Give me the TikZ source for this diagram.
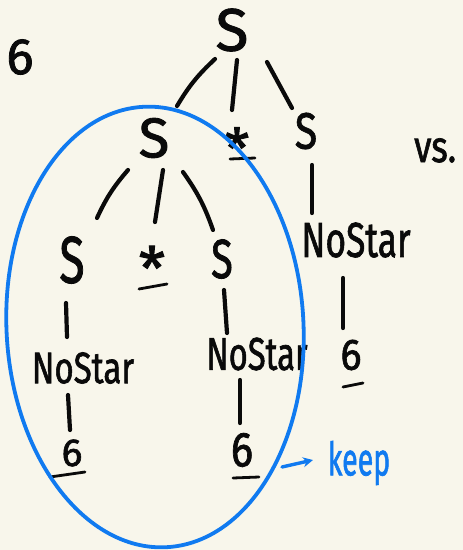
\documentclass[tikz,border=0pt]{standalone}
\usepackage{fontspec}
\usepackage{graphicx}
\setmainfont{Fira Sans}
\newfontfamily\handfont{Fira Sans}[FakeBold=1.6]
\usetikzlibrary{arrows.meta}
\definecolor{paper}{RGB}{248,246,235}
\definecolor{ink}{RGB}{10,10,10}
\definecolor{marker}{RGB}{16,122,240}
\newcommand\sx[2]{\scalebox{#1}[1]{#2}}
\tikzset{
  hand/.style={font=\handfont\fontsize{#1pt}{#1pt}\selectfont, inner sep=0pt, text=ink},
  edge/.style={draw=ink, line width=4.2pt, line cap=round},
  uline/.style={draw=ink, line width=2.8pt, line cap=round},
  ring/.style={draw=marker, line width=3.8pt},
  pointer/.style={draw=marker, line width=3.4pt, line cap=round, -{Stealth[length=10pt,width=10pt]}}
}
\begin{document}
\begin{tikzpicture}[x=1pt,y=-1pt]
  \fill[paper] (0,0) rectangle (463,550);
  \useasboundingbox (0,0) rectangle (463,550);

  % side notes
  \node[hand=51] (tok) at (20,57) {6};
  \node[hand=44, anchor=base west] (vs) at (414,162) {\sx{0.8}{vs.}};

  % parse tree
  \node[hand=60] (root) at (232,30) {S};
  \node[hand=56] (s2) at (154,138) {S};
  \node[hand=56] (star1) at (237,148) {*};
  \node[hand=51] (s2r) at (306,131) {\sx{0.8}{S}};
  \node[hand=49] (nsr) at (356,240) {\sx{0.72}{NoStar}};
  \node[hand=44] (sixr) at (351,355) {\sx{0.9}{6}};

  \node[hand=66] (s3a) at (72,260) {\sx{0.7}{S}};
  \node[hand=60] (star2) at (152,268) {*};
  \node[hand=55] (s3b) at (222,259) {\sx{0.72}{S}};
  \node[hand=44] (nsl) at (83,368) {\sx{0.75}{NoStar}};
  \node[hand=46] (nsm) at (257,354) {\sx{0.71}{NoStar}};
  \node[hand=39] (sixl) at (72,453) {6};
  \node[hand=49] (sixm) at (242,450) {\sx{0.85}{6}};

  % tree edges
  \draw[edge] ([shift={(-17,29)}]root.center) to[bend right=8] ([shift={(23,-32)}]s2.center);
  \draw[edge] ([shift={(5,30)}]root.center) -- ([shift={(-5,-38)}]star1.center);
  \draw[edge] ([shift={(35,32)}]root.center) -- ([shift={(-14,-23)}]s2r.center);
  \draw[edge] ([shift={(-26,32)}]s2.center) to[bend right=8] ([shift={(25,-42)}]s3a.center);
  \draw[edge] ([shift={(9,32)}]s2.center) -- ([shift={(3,-46)}]star2.center);
  \draw[edge] ([shift={(29,34)}]s2.center) to[bend left=8] ([shift={(-9,-29)}]s3b.center);
  \draw[edge] ([shift={(6,34)}]s2r.center) -- ([shift={(-44,-27)}]nsr.center);
  \draw[edge] ([shift={(-13,38)}]nsr.center) -- ([shift={(-8,-27)}]sixr.center);
  \draw[edge] ([shift={(-6,43)}]s3a.center) -- ([shift={(-16,-31)}]nsl.center);
  \draw[edge] ([shift={(-15,27)}]nsl.center) -- ([shift={(-2,-23)}]sixl.center);
  \draw[edge] ([shift={(2,31)}]s3b.center) -- ([shift={(-30,-21)}]nsm.center);
  \draw[edge] ([shift={(-17,26)}]nsm.center) -- ([shift={(-2,-27)}]sixm.center);

  % terminal underlines
  \draw[uline] ([shift={(-7,11)}]star1.center) -- ([shift={(18,10)}]star1.center);
  \draw[uline] ([shift={(-13,21)}]star2.center) -- ([shift={(15,16)}]star2.center);
  \draw[uline] ([shift={(-22,24)}]sixl.center) -- ([shift={(13,19)}]sixl.center);
  \draw[uline] ([shift={(-9,28)}]sixm.center) -- ([shift={(17,27)}]sixm.center);
  \draw[uline] ([shift={(-8,32)}]sixr.center) -- ([shift={(12,28)}]sixr.center);

  % highlighted subtree
  \coordinate (loop) at (155,327);
  \draw[ring, rotate around={3:(loop)}] (loop) ellipse [x radius=148.5pt, y radius=220.5pt];
  \node[hand=46, text=marker] (keep) at (359,463) {\sx{0.62}{keep}};
  \draw[pointer] ([shift={(40,17)}]sixm.center) -- ([shift={(-46,-3)}]keep.center);
\end{tikzpicture}
\end{document}
